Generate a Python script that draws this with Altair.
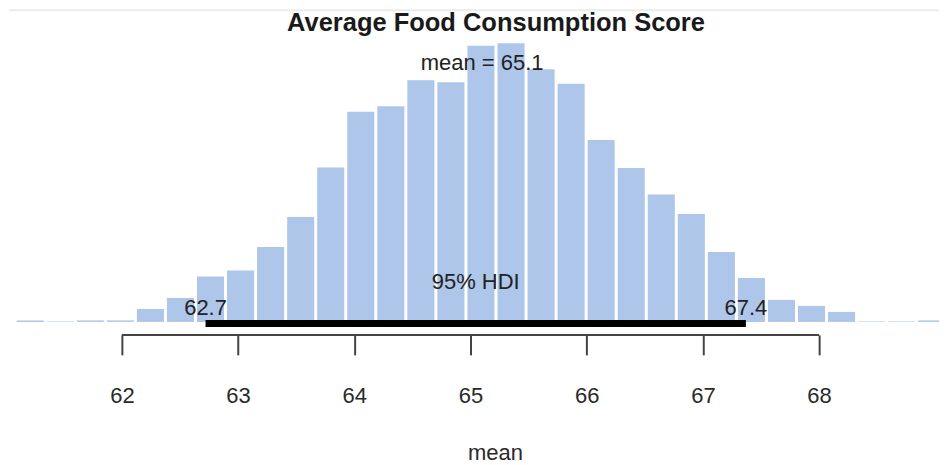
import altair as alt
import pandas as pd

# ---- data ----
BIN_START = 61.082
BIN_WIDTH = 0.2586
counts = [1.5, 0.5, 1.5, 1.5, 13, 24, 45.5, 51.5, 75, 105, 154.5, 210.5, 216,
          242, 240, 276.5, 279, 253, 238.5, 182, 154, 127.5, 108, 70, 44, 22,
          16, 10, 0.5, 0.5, 1.5]
tick_values = [62, 63, 64, 65, 66, 67, 68]
hdi_low = 62.72
hdi_high = 67.37
mean_value = 65.1
title_text = "Average Food Consumption Score"
mean_label = "mean = 65.1"
hdi_label = "95% HDI"
hdi_low_label = "62.7"
hdi_high_label = "67.4"
x_title = "mean"

W, H = 932, 314
FONT = "Liberation Sans"
X_DOMAIN = [61.020, 69.032]

bins = pd.DataFrame({
    "start": [BIN_START + i * BIN_WIDTH for i in range(len(counts))],
    "end": [BIN_START + (i + 1) * BIN_WIDTH for i in range(len(counts))],
    "count": counts,
    "zero": [0] * len(counts),
})

xscale = alt.Scale(domain=X_DOMAIN, nice=False, zero=False)
yscale = alt.Scale(domain=[0, H], nice=False, zero=True)
xaxis = alt.Axis(values=tick_values, domain=False, grid=False,
                 ticks=True, tickSize=20, tickWidth=2, tickColor="#444",
                 labelFontSize=22, labelFont=FONT, labelColor="#2a2a2a",
                 labelPadding=41, labelBaseline="middle", offset=13,
                 format="d", title=None)

bars = alt.Chart(bins).mark_bar(
    color="#aec6ea", xOffset=1.5, x2Offset=-1.5, clip=True
).encode(
    x=alt.X("start:Q", scale=xscale, axis=xaxis),
    x2="end:Q",
    y=alt.Y("count:Q", scale=yscale, axis=None),
    y2="zero:Q",
)

hdi_df = pd.DataFrame({"lo": [hdi_low], "hi": [hdi_high], "y": [-1.7]})
hdi_bar = alt.Chart(hdi_df).mark_rule(color="black", strokeWidth=7, strokeCap="butt").encode(
    x=alt.X("lo:Q", scale=xscale, axis=xaxis),
    x2="hi:Q",
    y=alt.Y("y:Q", scale=yscale, axis=None),
)

axis_df = pd.DataFrame({"lo": [tick_values[0]], "hi": [tick_values[-1]]})
axis_line = alt.Chart(axis_df).mark_rule(color="#444", strokeWidth=2).encode(
    x=alt.X("lo:Q", scale=xscale, axis=xaxis),
    x2="hi:Q",
    y=alt.value(H + 13),
)

ann_df = pd.DataFrame({
    "x": [mean_value, (hdi_low + hdi_high) / 2, hdi_low, hdi_high],
    "y": [259, 40, 13.5, 14],
    "label": [mean_label, hdi_label, hdi_low_label, hdi_high_label],
    "dx": [3, 0, -10, 8],
})
ann = alt.Chart(ann_df).mark_text(
    font=FONT, fontSize=22, color="#222", baseline="middle", align="center"
).encode(
    x=alt.X("x:Q", scale=xscale, axis=xaxis),
    y=alt.Y("y:Q", scale=yscale, axis=None),
    text="label:N",
    xOffset=alt.XOffset("dx:Q", scale=None),
)

title_df = pd.DataFrame({"label": [title_text]})
title = alt.Chart(title_df).mark_text(
    font=FONT, fontSize=25.5, fontWeight="bold", color="#1a1a1a",
    baseline="middle", align="center"
).encode(
    x=alt.value(488.5), y=alt.value(15), text="label:N"
)

xt_df = pd.DataFrame({"label": [x_title]})
xtitle = alt.Chart(xt_df).mark_text(
    font=FONT, fontSize=22, color="#2a2a2a", baseline="alphabetic", align="center"
).encode(
    x=alt.value(488), y=alt.value(452), text="label:N"
)

top_line = alt.Chart(title_df).mark_rule(color="#ececec", strokeWidth=2).encode(
    x=alt.value(1), x2=alt.value(W), y=alt.value(2)
)

chart = alt.layer(top_line, bars, hdi_bar, axis_line, ann, title, xtitle).properties(
    width=W, height=H, padding=0
).configure_view(stroke=None)

chart.save("out.html", embed_options={"renderer": "svg", "actions": False})
